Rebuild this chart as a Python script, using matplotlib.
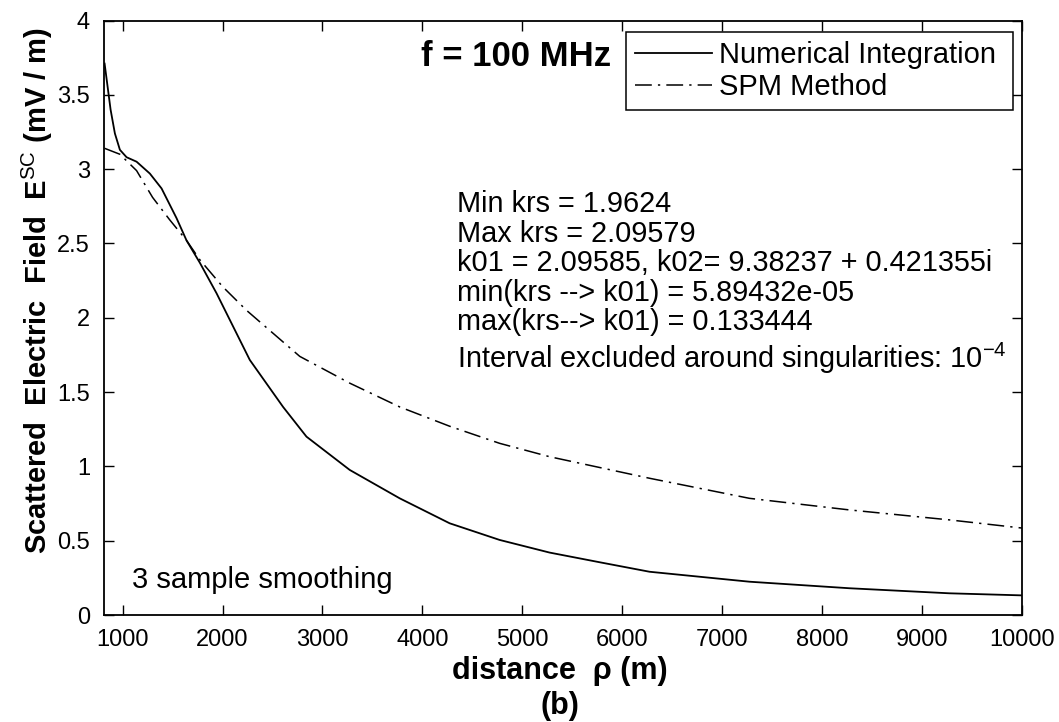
import matplotlib
matplotlib.use("Agg")
import matplotlib.pyplot as plt

# Numerical Integration (solid)
num_x = [820, 880, 923, 973, 1040, 1140, 1273, 1390, 1540, 1640, 1773, 1940,
         2273, 2606, 2840, 3273, 3773, 4273, 4773, 5273, 5773, 6273, 7273,
         8273, 9273, 10000]
num_y = [3.71, 3.40, 3.24, 3.13, 3.08, 3.05, 2.97, 2.87, 2.67, 2.52, 2.37, 2.165,
         1.716, 1.40, 1.20, 0.976, 0.785, 0.617, 0.505, 0.420, 0.355, 0.291, 0.224,
         0.180, 0.146, 0.132]

# SPM Method (dash-dot)
spm_x = [820, 973, 1140, 1300, 1470, 1640, 1773, 2000, 2240, 2773, 3273, 3773,
         4273, 4773, 5273, 6273, 7273, 8273, 9273, 10000]
spm_y = [3.14, 3.10, 2.99, 2.81, 2.66, 2.52, 2.39, 2.21, 2.05, 1.74, 1.56, 1.40,
         1.27, 1.155, 1.065, 0.92, 0.785, 0.707, 0.64, 0.585]

xticks = [1000, 2000, 3000, 4000, 5000, 6000, 7000, 8000, 9000, 10000]
yticks = [0, 0.5, 1, 1.5, 2, 2.5, 3, 3.5, 4]
ytick_labels = ["0", "0.5", "1", "1.5", "2", "2.5", "3", "3.5", "4"]

info_lines = ["Min krs = 1.9624",
              "Max krs = 2.09579",
              "k01 = 2.09585, k02= 9.38237 + 0.421355i",
              "min(krs --> k01) = 5.89432e-05",
              "max(krs--> k01) = 0.133444"]

plt.rcParams['font.family'] = ['Liberation Sans', 'DejaVu Sans']
plt.rcParams['mathtext.fontset'] = 'custom'
plt.rcParams['mathtext.rm'] = 'Liberation Sans'
plt.rcParams['mathtext.it'] = 'Liberation Sans'
plt.rcParams['mathtext.bf'] = 'Liberation Sans:bold'

W, H = 1059, 722
fig = plt.figure(figsize=(W / 100, H / 100), dpi=100)
L, R, T, B = 104, 1022, 20.5, 615
ax = fig.add_axes([L / W, 1 - B / H, (R - L) / W, (B - T) / H])

def ax_frac(px, py):
    return (px - L) / (R - L), (B - py) / (B - T)

ax.plot(num_x, num_y, color='black', lw=1.3, ls='-', label='Numerical Integration')
ax.plot(spm_x, spm_y, color='black', lw=1.1, ls=(0, (11, 4, 1.5, 4)), label='SPM Method')

ax.set_xlim(814, 10000)
ax.set_ylim(0, 4)
ax.set_xticks(xticks)
ax.set_yticks(yticks)
ax.set_yticklabels(ytick_labels)
ax.tick_params(direction='in', length=7, width=1, top=True, right=True,
               labelsize=17, pad=10)
for s in ax.spines.values():
    s.set_linewidth(1.3)

ax.set_xlabel(r"distance  ρ (m)", fontsize=22, fontweight='bold')
ax.xaxis.set_label_coords(*ax_frac(560, 656))
ax.set_ylabel(r"Scattered  Electric  Field  E$^{\rm SC}$ (mV / m)", fontsize=21,
              fontweight='bold')
ax.yaxis.set_label_coords(*ax_frac(55, 291))
fig.text(560 / W, 1 - 706 / H, "(b)", fontsize=22, fontweight='bold',
         ha='center', va='center')

lx0, ly0 = ax_frac(626, 32)
lx1, ly1 = ax_frac(1013, 108)
leg = ax.legend(loc='upper left', bbox_to_anchor=(lx0, ly1, lx1 - lx0, ly0 - ly1),
                mode='expand', fontsize=21,
                frameon=True, fancybox=False, edgecolor='black', framealpha=1,
                handlelength=2.65, handletextpad=0.24, borderpad=0.3,
                labelspacing=0.15, borderaxespad=0)
leg.get_frame().set_linewidth(1.1)

fx, fy = ax_frac(611, 56)
ax.text(fx, fy, "f = 100 MHz", transform=ax.transAxes, fontsize=25,
        fontweight='bold', ha='right', va='center')

rows_y = [204, 234, 263, 293, 322]
for yy, line in zip(rows_y, info_lines):
    tx, ty = ax_frac(457, yy)
    ax.text(tx, ty, line, transform=ax.transAxes, fontsize=20.8,
            ha='left', va='center')
tx, ty = ax_frac(457, 358)
ax.text(tx, ty, r"Interval excluded around singularities: 10$^{-4}$",
        transform=ax.transAxes, fontsize=20.8, ha='left', va='center')

tx, ty = ax_frac(132, 580)
ax.text(tx, ty, "3 sample smoothing", transform=ax.transAxes, fontsize=21,
        ha='left', va='center')

fig.savefig("out.png", dpi=100)
